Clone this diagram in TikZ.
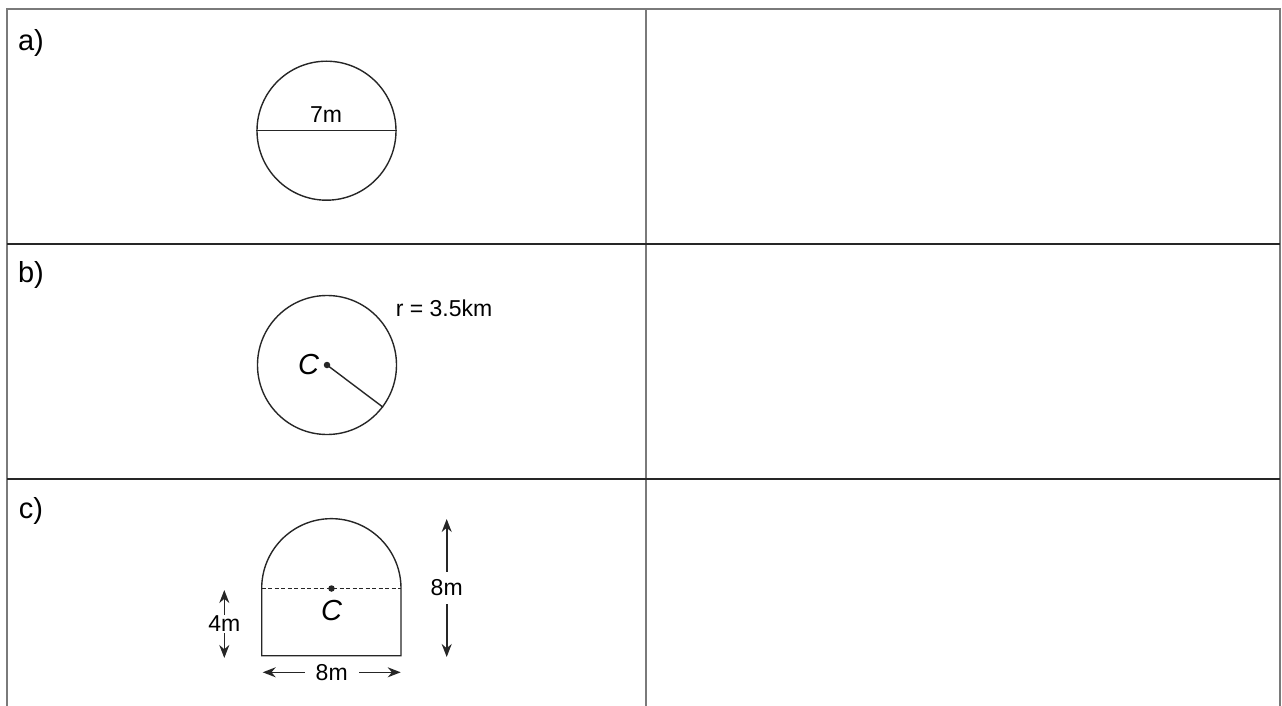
\documentclass[tikz,border=0pt]{standalone}
\usepackage{fontspec}
\setmainfont{Liberation Sans}
\usetikzlibrary{arrows.meta,positioning}
\definecolor{framegray}{HTML}{7A7A7A}
\definecolor{inkdark}{HTML}{262626}

\begin{document}
\begin{tikzpicture}[
  x=1pt, y=-1pt,
  frame/.style={draw=framegray, line width=1.8pt},
  rowline/.style={draw=inkdark, line width=1.4pt},
  outline/.style={draw=inkdark, line width=1.4pt},
  ring/.style={circle, outline, minimum size=139pt, inner sep=0pt},
  dimarrow/.style={{Stealth[length=13pt,width=10pt]}-{Stealth[length=13pt,width=10pt]}, draw=inkdark, line width=1.6pt},
  dimlabel/.style={font=\fontsize{23}{27}\selectfont, fill=white, inner sep=7pt},
  partlabel/.style={font=\fontsize{29}{33}\selectfont},
  centrelabel/.style={font=\fontsize{29}{32}\selectfont\itshape},
  dot/.style={circle, fill=inkdark, minimum size=6.5pt, inner sep=0pt}
]
  \useasboundingbox (0,0) rectangle (1282,706);

  % --- Table frame ---
  \coordinate (tl) at (7,9);
  \coordinate (tr) at (1280,9);
  \coordinate (bl) at (7,706);
  \coordinate (br) at (1280,706);
  \coordinate (mt) at (646,9);
  \coordinate (mb) at (646,706);
  \coordinate (r1l) at (7,244);
  \coordinate (r1r) at (1280,244);
  \coordinate (r2l) at (7,479);
  \coordinate (r2r) at (1280,479);
  \draw[frame] (bl) -- (tl) -- (tr) -- (br);
  \draw[frame] (mt) -- (mb);
  \draw[rowline] (r1l) -- (r1r);
  \draw[rowline] (r2l) -- (r2r);

  % --- Part labels ---
  \node[partlabel] (pa) at (31,43) {a)};
  \node[partlabel] (pb) at (31,275) {b)};
  \node[partlabel] (pc) at (31,511) {c)};

  % --- a) circle with diameter ---
  \node[ring] (circA) at (326.5,130.7) {};
  \draw[outline] (circA.west) -- (circA.east);
  \node[font=\fontsize{23}{27}\selectfont] (diamA) at (326,115) {7m};

  % --- b) circle with radius ---
  \node[ring] (circB) at (327,365) {};
  \node[dot] (cenB) at (circB.center) {};
  \draw[outline] (cenB.center) -- (circB.-37);
  \node[centrelabel, left=1pt of cenB] (labB) {C};
  \node[font=\fontsize{23}{27}\selectfont] (radB) at (444,308) {r = 3.5km};

  % --- c) semicircle on rectangle ---
  \coordinate (cl) at (261.7,588.3);
  \coordinate (cr) at (401,588.3);
  \coordinate (bl2) at (261.7,655.7);
  \coordinate (br2) at (401,655.7);
  \draw[outline] (cl) -- (bl2) -- (br2) -- (cr) arc[start angle=0, end angle=-180, radius=69.65];
  \draw[outline, dash pattern=on 4pt off 2.5pt, line width=1.1pt] (cl) -- (cr);
  \node[dot] (cenC) at (331.5,588.5) {};
  \node[centrelabel, below=5pt of cenC] (labC) {C};

  % --- Dimension arrows ---
  \coordinate (d4t) at (224.3,590);
  \coordinate (d4b) at (224.3,658);
  \draw[dimarrow] (d4t) -- node[dimlabel, inner sep=1.5pt] {4m} (d4b);
  \coordinate (d8t) at (446.7,519);
  \coordinate (d8b) at (446.7,657);
  \draw[dimarrow] (d8t) -- node[dimlabel, inner sep=8pt] {8m} (d8b);
  \coordinate (dwl) at (262.7,672.3);
  \coordinate (dwr) at (400.7,672.3);
  \draw[dimarrow] (dwl) -- node[dimlabel, inner xsep=11pt, inner ysep=2pt] {8m} (dwr);
\end{tikzpicture}
\end{document}
